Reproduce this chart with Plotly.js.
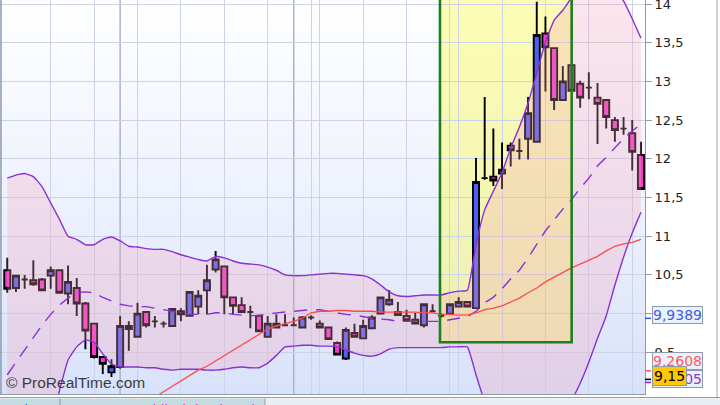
<!DOCTYPE html>
<html><head><meta charset="utf-8">
<script src="https://cdn.plot.ly/plotly-3.0.1.min.js"></script>
<style>
html,body{margin:0;padding:0;background:#ffffff;}
#wrap{position:relative;width:720px;height:405px;overflow:hidden;}
#bg{position:absolute;left:0;top:0;width:645px;height:394px;background:linear-gradient(to bottom,#ffffff 0%,#eef2fd 50%,#d8e2fa 100%);}
#chart{position:absolute;left:0;top:0;width:720px;height:405px;}
</style></head><body>
<div id="wrap"><div id="bg"></div><div id="chart"></div></div>
<script>
// ---- data ----
const open  = [10.56,10.33,10.44,10.43,10.44,10.49,10.56,10.26,10.33,10.13, 9.87,9.44,9.24,9.31,9.84,9.70,10.02,9.90,9.87,9.84, 10.03,9.97,10.09,10.30,10.57,10.61,10.21,10.11,10.02,9.97, 9.70,9.82,9.85,9.85,9.82,9.95,9.87,9.82,9.62,9.42, 9.75,9.68,9.81,10.00,10.12,10.02,9.97,9.92,9.85,10.03, 9.97,10.00,10.09,10.15,10.07,11.75,11.77,11.81,12.17,12.10, 12.26,12.22,13.62,13.43,12.76,13.21,12.97,12.92,12.79,12.76, 12.50,12.39,12.33,12.05];
const high  = [10.72,10.50,10.50,10.69,10.46,10.61,10.57,10.62,10.46,10.15, 9.87,9.44,9.41,9.97,9.90,10.14,10.02,9.97,9.90,10.07, 10.07,10.29,10.30,10.63,10.81,10.61,10.21,10.21,10.10,9.97, 9.97,9.99,9.99,9.95,9.97,9.98,9.91,9.82,9.64,9.82, 9.87,9.92,9.98,10.21,10.30,10.15,10.05,10.01,10.12,10.12, 10.00,10.12,10.21,10.15,12.01,12.80,12.39,12.21,12.21,12.26, 12.80,14.03,13.84,13.43,13.20,13.21,13.01,13.12,12.98,12.76, 12.54,12.54,12.50,12.22];
const low   = [10.27,10.28,10.32,10.36,10.30,10.32,10.26,10.12,9.97,9.54, 9.42,9.22,9.18,9.29,9.52,9.70,9.82,9.82,9.82,9.84, 9.90,9.97,9.99,9.99,10.53,9.99,9.99,10.01,9.81,9.77, 9.70,9.82,9.84,9.84,9.82,9.92,9.82,9.67,9.47,9.40, 9.70,9.68,9.81,10.00,10.10,9.98,9.91,9.87,9.82,10.02, 9.95,10.00,10.09,10.09,10.07,11.73,11.65,11.61,11.90,11.99, 11.99,12.22,12.87,12.63,12.76,12.88,12.66,12.77,12.19,12.39, 12.22,12.31,11.85,11.61];
const close = [10.32,10.49,10.44,10.38,10.30,10.56,10.27,10.41,10.13,9.78, 9.44,9.35,9.32,9.84,9.80,10.00,9.85,9.90,9.87,10.06, 9.99,10.28,10.23,10.43,10.70,10.21,10.10,10.02,10.02,9.77, 9.87,9.87,9.85,9.85,9.95,9.95,9.82,9.67,9.47,9.79, 9.70,9.84,9.95,10.21,10.18,9.98,9.91,9.87,10.12,10.03, 9.97,10.12,10.15,10.09,11.70,11.75,11.72,11.86,12.11,12.10, 12.59,13.60,13.44,12.76,13.00,12.88,12.79,12.92,12.71,12.54, 12.37,12.39,12.09,11.61];

const bollUpper = [11.75,11.79,11.81,11.77,11.64,11.43,11.22,11.00,10.96,10.89, 10.89,10.96,10.99,10.94,10.87,10.86,10.84,10.83,10.83,10.80, 10.76,10.73,10.70,10.68,10.74,10.72,10.68,10.65,10.64,10.63, 10.60,10.56,10.50,10.49,10.49,10.50,10.51,10.52,10.52,10.51, 10.50,10.49,10.45,10.37,10.28,10.23,10.22,10.23,10.24,10.24, 10.24,10.27,10.29,10.30,10.89,11.34,11.58,11.82,12.14,12.41, 12.72,13.11,13.51,13.79,13.92,14.08,14.21,14.31,14.37,14.34, 14.21,14.04,13.81,13.56];
const bollLower = [6.66,6.96,7.24,7.60,8.07,8.56,9.00,9.40,9.57,9.66, 9.63,9.48,9.35,9.31,9.31,9.31,9.30,9.30,9.28,9.27, 9.28,9.28,9.28,9.27,9.27,9.28,9.30,9.31,9.30,9.30, 9.36,9.46,9.57,9.58,9.59,9.59,9.58,9.58,9.57,9.53, 9.49,9.46,9.45,9.48,9.54,9.56,9.56,9.56,9.56,9.56, 9.56,9.57,9.57,9.57,9.21,8.88,8.84,8.82,8.75,8.72, 8.72,8.66,8.63,8.63,8.75,8.88,9.10,9.37,9.68,9.97, 10.37,10.73,11.04,11.31];
const bollMid = [9.21,9.37,9.53,9.68,9.85,9.99,10.11,10.20,10.27,10.28, 10.27,10.21,10.16,10.12,10.10,10.09,10.09,10.07,10.05,10.03, 10.01,9.99,9.99,9.99,10.01,10.01,9.99,9.98,9.97,9.98, 9.99,10.01,10.02,10.03,10.04,10.05,10.05,10.03,10.01,9.99, 9.98,9.96,9.94,9.93,9.92,9.90,9.90,9.90,9.90,9.90, 9.90,9.92,9.94,9.96,10.03,10.14,10.21,10.32,10.45,10.56, 10.72,10.89,11.07,11.21,11.35,11.47,11.62,11.75,11.91,12.02, 12.14,12.26,12.36,12.45];
const maLong = [null,null,null,null,null,null,null,null,null,null,null,null,null,null, 8.73,8.79,8.86,8.92,8.99,9.06, 9.14,9.21,9.27,9.32,9.39,9.45,9.53,9.59,9.66,9.74, 9.80,9.84,9.87,9.90,9.94,10.01,10.03,10.03,10.04,10.04, 10.03,10.03,10.03,10.02,10.02,10.02,10.02,10.02,10.01,10.01, 9.99,9.99,9.98,9.98,10.01,10.05,10.07,10.10,10.15,10.20, 10.27,10.33,10.41,10.47,10.54,10.59,10.64,10.69,10.74,10.81, 10.87,10.90,10.92,10.96];

const yTicks = [9.5,10,10.5,11,11.5,12,12.5,13,13.5,14];
const weekLines = [5,10,15,20,25,30,35,36,41,46,51,52,57,62,67,72];
const monthLines = [13,33];
const lastLabels = ['9,9389','9,2608','9,1105','9,15'];
const lastValues = [9.9389, 9.2608, 9.1105, 9.15];
const tabNames = ['Volume','Moyenne mobile (Simple 10)'];

const days = open.map((_, i) => i);

const purple = '#8a30d4';
const traces = [
  {x: days, y: bollLower, mode:'lines', line:{width:0, color:'rgba(0,0,0,0)'}, hoverinfo:'skip'},
  {x: days, y: bollUpper, mode:'lines', line:{width:0, color:'rgba(0,0,0,0)'}, fill:'tonexty', fillcolor:'rgba(245,160,185,0.28)', hoverinfo:'skip'},
  {type:'candlestick', x: days, open: open, high: high, low: low, close: close,
   increasing:{fillcolor:'#4f5ff0', line:{color:'#000000', width:1.9}},
   decreasing:{fillcolor:'#f23cc8', line:{color:'#000000', width:1.9}},
   whiskerwidth:0, hoverinfo:'skip'},
  {x: days, y: bollUpper, mode:'lines', line:{width:1.4, color:purple, shape:'spline', smoothing:0.4}, hoverinfo:'skip'},
  {x: days, y: bollLower, mode:'lines', line:{width:1.4, color:purple, shape:'spline', smoothing:0.4}, hoverinfo:'skip'},
  {x: days, y: bollMid, mode:'lines', line:{width:1.4, color:purple, dash:'13px,9px'}, hoverinfo:'skip'},
  {x: days, y: maLong, mode:'lines', line:{width:1.3, color:'#ff4a4a'}, hoverinfo:'skip', connectgaps:false}
];

const shapes = [];
// highlighted zone
shapes.push({type:'rect', xref:'x', yref:'y', x0:49.85, x1:65.02, y0:9.63, y1:15, fillcolor:'rgba(250,250,105,0.5)', line:{width:0}, layer:'below'});
monthLines.forEach(v => shapes.push({type:'line', xref:'x', yref:'paper', x0:v, x1:v, y0:0, y1:1, line:{color:'#aab3ca', width:1.5}, layer:'below'}));
shapes.push({type:'rect', xref:'x', yref:'y', x0:49.85, x1:65.02, y0:9.63, y1:15, fillcolor:'rgba(0,0,0,0)', line:{color:'#1e7f1e', width:2.6}, layer:'above'});
// frame pieces
shapes.push({type:'line', xref:'paper', yref:'paper', x0:0.0015, x1:0.0015, y0:0, y1:1, line:{color:'#8d9bb0', width:1.5}});
shapes.push({type:'line', xref:'paper', yref:'paper', x0:717/645, x1:717/645, y0:-0.03, y1:1, line:{color:'#9aa6b4', width:1}});
shapes.push({type:'line', xref:'paper', yref:'paper', x0:0, x1:720/645, y0:-3.5/394, y1:-3.5/394, line:{color:'#8d9bab', width:1}});
shapes.push({type:'rect', xref:'paper', yref:'paper', x0:0, x1:265/645, y0:-4.5/394, y1:-12/394, fillcolor:'#c4dbe2', line:{width:0}});
shapes.push({type:'rect', xref:'paper', yref:'paper', x0:265/645, x1:720/645, y0:-4.5/394, y1:-12/394, fillcolor:'#e8eef4', line:{width:0}});
shapes.push({type:'line', xref:'paper', yref:'paper', x0:60/645, x1:60/645, y0:-4.5/394, y1:-12/394, line:{color:'#8d9bab', width:1}});
shapes.push({type:'line', xref:'paper', yref:'paper', x0:265/645, x1:265/645, y0:-4.5/394, y1:-12/394, line:{color:'#8d9bab', width:1}});
// coloured marks at axis for last values
const markColors = ['#3a5fe0','#ff5a5a','#8a30d4','#000000'];
lastValues.forEach((v,k) => shapes.push({type:'line', xref:'paper', yref:'y', x0:1.0, x1:651/645, y0:v, y1:v, line:{color:markColors[k], width:1.6}}));

const annotations = [];
annotations.push({xref:'paper', yref:'paper', x:4/645, y:0.002, xanchor:'left', yanchor:'bottom', showarrow:false,
  text:'© ProRealTime.com', font:{family:'Liberation Sans, Arial, sans-serif', size:15.5, color:'#3c3c3c'}});
const boxFont = 'DejaVu Sans, Verdana, sans-serif';
const shifts = [3.6, 10, 3.7, 3.6];
const txtColors = ['#3a5fe0','#ff5a5a','#9a30d4','#000000'];
const bg = ['#eaf1fb','#eaf1fb','#eaf1fb','#ffc800'];
lastValues.forEach((v,k) => annotations.push({xref:'paper', yref:'y', x:651.5/645, y:v, yshift:shifts[k], xanchor:'left', yanchor:'middle',
  showarrow:false, text:lastLabels[k], font:{family:boxFont, size:14, color:txtColors[k]},
  bgcolor:bg[k], bordercolor:'#8d9cab', borderwidth:1, borderpad:(k===3?1:0)}));
annotations.push({xref:'paper', yref:'paper', x:5/645, y:-5/394, xanchor:'left', yanchor:'top', showarrow:false,
  text:tabNames[0], font:{family:'Liberation Sans, Arial, sans-serif', size:15, color:'#3a66d8'}});
annotations.push({xref:'paper', yref:'paper', x:64/645, y:-5/394, xanchor:'left', yanchor:'top', showarrow:false,
  text:tabNames[1], font:{family:'Liberation Sans, Arial, sans-serif', size:15, color:'#e040c8'}});

const layout = {
  width:720, height:405,
  margin:{l:0, r:75, t:0, b:11, pad:0},
  paper_bgcolor:'rgba(0,0,0,0)', plot_bgcolor:'rgba(0,0,0,0)',
  showlegend:false, separators:', ', hovermode:false,
  boxgap:0.3, boxgroupgap:0,
  xaxis:{range:[-0.84, 73.47], tickvals:weekLines, showticklabels:false, ticks:'', showgrid:true, gridcolor:'#cdd3e6', gridwidth:1,
         zeroline:false, showline:true, linecolor:'#8d9bab', linewidth:1, rangeslider:{visible:false}, fixedrange:true},
  yaxis:{side:'right', range:[8.961, 14.052], tickvals:yTicks, ticks:'outside', ticklen:6, tickcolor:'#8d9bab', tickwidth:1,
         showline:true, linecolor:'#8d9bab', linewidth:1, showgrid:true, gridcolor:'#cdd3e6', gridwidth:1, zeroline:false,
         ticklabeloverflow:'allow', tickfont:{family:boxFont, size:13, color:'#222222'}, fixedrange:true},
  shapes: shapes, annotations: annotations
};
Plotly.newPlot('chart', traces, layout, {displayModeBar:false, staticPlot:true});
</script>
</body></html>
